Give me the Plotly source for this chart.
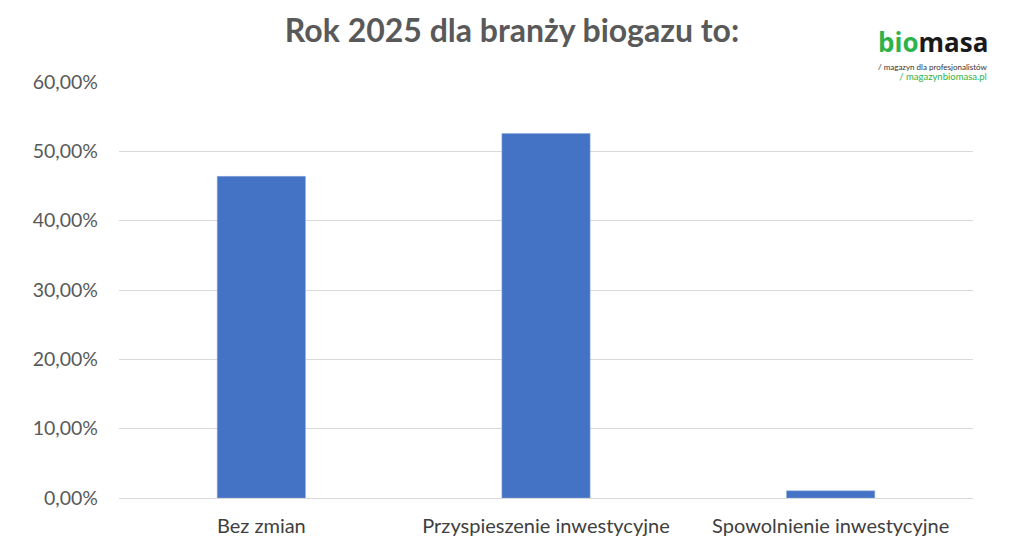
import plotly.graph_objects as go

categories = ["Bez zmian", "Przyspieszenie inwestycyjne", "Spowolnienie inwestycyjne"]
values = [0.4639, 0.5258, 0.0103]
title_text = "Rok 2025 dla branży biogazu to:"

fig = go.Figure(go.Bar(x=categories, y=values, marker=dict(color="#4472C4", line=dict(color="#8FAADC", width=0.5)), width=0.31))

FONT = "Lato, Open Sans, sans-serif"
fig.update_layout(
    width=1024, height=548,
    margin=dict(l=119, r=51, t=82, b=50),
    paper_bgcolor="white", plot_bgcolor="white",
    separators=", ",
    showlegend=False,
    title=dict(text="<b>" + title_text + "</b>", x=0.5, xanchor="center", y=0.943, yanchor="middle",
               font=dict(family=FONT, size=32, color="#595959")),
    font=dict(family=FONT, color="#595959"),
)
fig.update_yaxes(range=[0, 0.6], dtick=0.1, tickformat=".2%", showgrid=True, gridcolor="#D9D9D9", gridwidth=1,
                 zeroline=False, showline=False, ticks="", ticklabelstandoff=20,
                 tickfont=dict(family=FONT, size=19.5, color="#595959"))
fig.update_xaxes(showline=True, linecolor="#D9D9D9", linewidth=1, ticks="", ticklabelstandoff=10,
                 tickfont=dict(family=FONT, size=20, color="#404040"))

fig.add_annotation(xref="paper", yref="paper", x=1.02, y=1.0962, xanchor="right", yanchor="middle", showarrow=False,
                   text="<b><span style='color:#2DB34A'>bio</span><span style='color:#1A1A1A'>masa</span></b>",
                   font=dict(family="Open Sans, sans-serif", size=26, color="#1A1A1A"))
fig.add_annotation(xref="paper", yref="paper", x=1.02, y=1.0529, xanchor="right", yanchor="top", showarrow=False,
                   align="right",
                   text="/ magazyn dla profesjonalistów<br><span style='color:#2DB34A;font-size:9.5px'>/ magazynbiomasa.pl</span>",
                   font=dict(family=FONT, size=8, color="#333333"))

fig.write_html("out.html", config={"displayModeBar": False})
with open("out.html", encoding="utf-8") as f:
    html = f.read()
html = html.replace("<body>", "<body style=\"margin:0\">", 1)
with open("out.html", "w", encoding="utf-8") as f:
    f.write(html)
